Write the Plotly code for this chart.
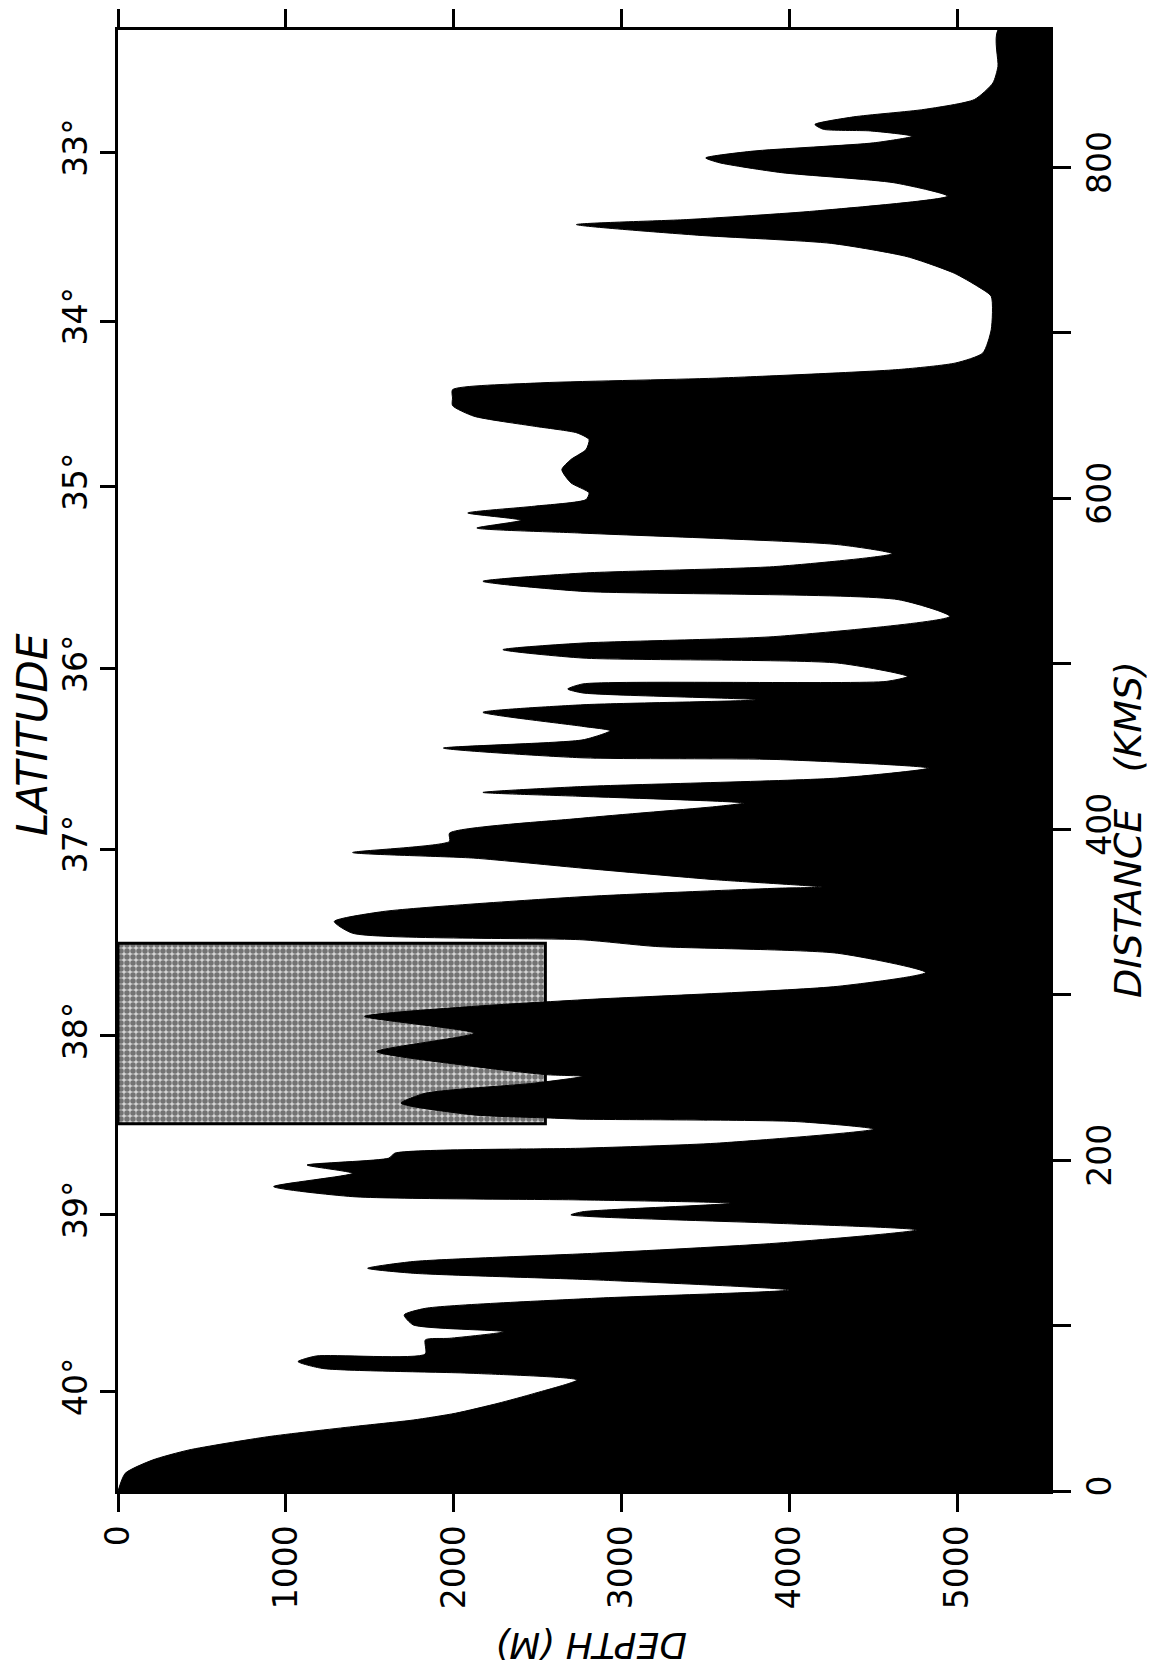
import plotly.graph_objects as go

# ---- data ----
dist_km = [0, 10.7, 18.7, 24.8, 32.8, 38.9, 42.9, 47, 53, 59, 67.1, 71.1, 74.1, 78.2, 81.6, 82.8,
           91.3, 92.3, 96.3, 100.4, 106.4, 110.4, 116.5, 121.5, 127.6, 131.6, 134.6, 138.7, 143.7,
           149.8, 157.8, 161.8, 166.9, 168.8, 173.9, 175.9, 177.9, 184, 192, 197, 201.2, 204.2,
           207.2, 210.2, 218.7, 223.3, 224.7, 225.5, 227.3, 234.4, 240.4, 246.5, 250.6, 251.6,
           256.6, 265.6, 276.7, 286.8, 292.9, 296.9, 305, 313.4, 325, 329.1, 333.1, 337.1, 344.2,
           350.2, 359.2, 364.3, 365, 369.4, 376.4, 382.5, 385.9, 392.6, 397.6, 406.7, 413.7, 415.8,
           419.8, 422.2, 425.8, 430.9, 436.9, 442.1, 443.1, 449, 454, 459.5, 462.1, 470.6, 475.2,
           478.2, 482.3, 484.7, 487.8, 489.3, 492.3, 500.4, 503.4, 508.5, 512.5, 516.5, 528.6,
           538.7, 543.7, 549.8, 554.8, 558.8, 566.5, 572, 578.9, 582, 586.7, 591.1, 595.2, 599.2,
           603.3, 609.3, 617.3, 623.4, 629.4, 635.5, 639.5, 643.5, 649.6, 656, 660.6, 665.6, 669.6,
           672.6, 677.8, 681.8, 687.8, 701.9, 722, 728, 736, 746, 754, 759, 765.4, 768.5, 773.6,
           782.6, 790.7, 796.8, 802.8, 805.7, 809.8, 814.8, 818.8, 822, 823, 825.9, 830.5, 835,
           841, 851, 861, 883]
depth_m = [0, 43, 205, 422, 891, 1397, 1758, 2010, 2263, 2480, 2733, 2119, 1216, 1072, 1180, 1830,
           1830, 1975, 2300, 1758, 1704, 1830, 2841, 3997, 2841, 1758, 1487, 1758, 2841,
           3924, 4755, 3924, 2697, 2769, 3654, 2769, 1397, 927, 1397, 1126, 1613, 1649,
           2769, 3563, 4502, 4033, 2769, 2552, 2119, 1685, 1830, 2480, 2769, 2552,
           2119, 1541, 2119, 1469, 2119, 2769, 4285, 4809, 4285, 3202, 2769, 1397, 1288,
           1577, 2769, 3924, 4195, 3563, 2769, 2119, 1397, 1974, 1974, 2769, 3563, 3726,
           2769, 2173, 2769, 4285, 4827, 3924, 2769, 1938, 2769, 2931, 2769, 2173, 2769,
           3816, 2769, 2678, 2769, 4574, 4701, 4285, 2769, 2292, 2769, 3924, 4953,
           4647, 2769, 2173, 2769, 3924, 4610, 4285, 2769, 2137, 2400, 2083, 2480, 2787,
           2805, 2697, 2643, 2697, 2787, 2805, 2733, 2480, 2119, 1992, 1992, 1992, 2480,
           3563, 4647, 4990, 5150, 5200, 5200, 5120, 4980, 4700, 4250, 3450, 2730, 3400, 4150,
           4940, 4620, 3950, 3580, 3500, 3780, 4500, 4730, 4480, 4200, 4150, 4380, 4800,
           5100, 5210, 5240, 5240]

lat_labels = ["33°", "34°", "35°", "36°", "37°", "38°", "39°", "40°"]
lat_dist_km = [809, 707, 607, 497, 388, 275, 167, 60]

depth_ticks = [0, 1000, 2000, 3000, 4000, 5000]
dist_ticks = [0, 100, 200, 300, 400, 500, 600, 700, 800]
dist_ticklabels = ["0", "", "200", "", "400", "", "600", "", "800"]

box_depth = [0, 2545]
box_dist = [222, 331]

DEPTH_MAX = 5550
DIST_MAX = 883

FONT = "DejaVu Sans"

fig = go.Figure()

# stippled box (drawn underneath the bathymetry)
fig.add_trace(go.Scatter(
    x=[box_depth[0], box_depth[1], box_depth[1], box_depth[0], box_depth[0]],
    y=[box_dist[0], box_dist[0], box_dist[1], box_dist[1], box_dist[0]],
    mode="lines", fill="toself",
    fillcolor="white",
    fillpattern=dict(shape=".", fgcolor="#111111", bgcolor="#d4d4d4", size=6, solidity=0.65),
    line=dict(color="black", width=3),
    hoverinfo="skip", showlegend=False,
))

# bathymetric profile filled toward the deep side
fig.add_trace(go.Scatter(
    x=depth_m + [DEPTH_MAX * 1.2, DEPTH_MAX * 1.2],
    y=dist_km + [DIST_MAX * 1.1, -0.1 * DIST_MAX],
    mode="lines", fill="toself",
    fillcolor="black",
    line=dict(color="black", width=1, shape="spline", smoothing=0.6),
    hoverinfo="skip", showlegend=False,
))

# invisible trace to attach the latitude axis
fig.add_trace(go.Scatter(
    x=[0], y=[0], yaxis="y2", mode="markers",
    marker=dict(opacity=0), hoverinfo="skip", showlegend=False,
))

tickfont = dict(family=FONT, size=33, color="black")

# the page body adds an 8px offset, so margins are compensated
fig.update_layout(
    width=1155, height=1669,
    margin=dict(l=110, r=113, t=22, b=186, autoexpand=False),
    paper_bgcolor="white", plot_bgcolor="white",
    showlegend=False,
    xaxis=dict(
        range=[0, DEPTH_MAX], tickvals=depth_ticks, ticktext=[str(v) for v in depth_ticks],
        ticks="outside", ticklen=18, tickwidth=3, tickcolor="black",
        showline=True, linecolor="black", linewidth=3, mirror="ticks",
        tickangle=-90, tickfont=tickfont, showgrid=False, zeroline=False, automargin=False,
    ),
    yaxis=dict(
        range=[0, DIST_MAX], side="right", tickvals=dist_ticks, ticktext=dist_ticklabels,
        ticks="outside", ticklen=18, tickwidth=3, tickcolor="black",
        showline=True, linecolor="black", linewidth=3,
        tickangle=-90, tickfont=tickfont, showgrid=False, zeroline=False, automargin=False,
    ),
    yaxis2=dict(
        range=[0, DIST_MAX], side="left", overlaying="y", tickvals=lat_dist_km, ticktext=lat_labels,
        ticks="outside", ticklen=15, tickwidth=3, tickcolor="black",
        showline=True, linecolor="black", linewidth=3,
        tickangle=-90, tickfont=tickfont, showgrid=False, zeroline=False, automargin=False,
        ticklabelstandoff=0,
    ),
    annotations=[
        dict(text="<i>LATITUDE</i>", x=-0.0912, y=0.5175, xref="paper", yref="paper",
             xanchor="center", yanchor="middle",
             showarrow=False, textangle=-90, font=dict(family=FONT, size=42, color="black")),
        dict(text="<i>DISTANCE&nbsp;&nbsp;&nbsp;(KMS)</i>", x=1.0837, y=0.4524, xref="paper", yref="paper",
             xanchor="center", yanchor="middle",
             showarrow=False, textangle=-90, font=dict(family=FONT, size=38, color="black")),
        dict(text="<i>DEPTH (M)</i>", x=0.5075, y=-0.1054, xref="paper", yref="paper",
             xanchor="center", yanchor="middle",
             showarrow=False, textangle=180, font=dict(family=FONT, size=36, color="black")),
    ],
)

fig.write_html("out.html")
